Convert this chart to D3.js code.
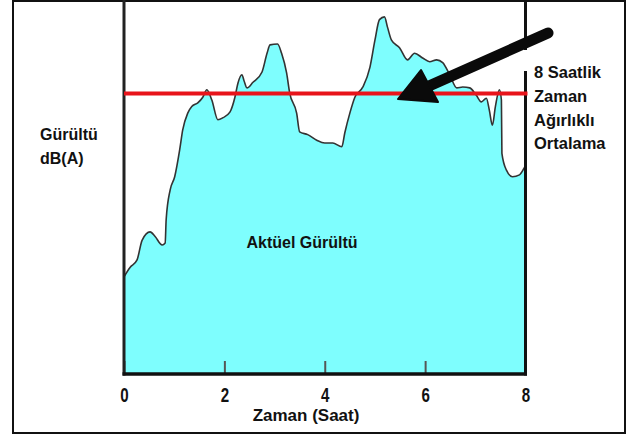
<!DOCTYPE html>
<html>
<head>
<meta charset="utf-8">
<script src="https://cdn.jsdelivr.net/npm/d3@7/dist/d3.min.js"></script>
<style>
  html, body { margin: 0; padding: 0; background: #fff; }
  svg { display: block; }
  text { font-family: "Liberation Sans", Arial, sans-serif; font-weight: bold; fill: #111; }
</style>
</head>
<body>
<svg id="chart" width="633" height="437"></svg>
<script>
// ---- Data (hours, dB(A)) ----
const hours = [0, 0.12, 0.26, 0.36, 0.52, 0.62, 0.76, 0.82, 0.84, 0.92, 1.01, 1.11, 1.17, 1.27, 1.35, 1.47, 1.57, 1.65, 1.75, 1.87,
  1.97, 2.11, 2.21, 2.27, 2.35, 2.39, 2.45, 2.57, 2.75, 2.85, 2.91, 3.06, 3.14, 3.24, 3.30, 3.44, 3.50, 3.66, 3.84, 4.00,
  4.16, 4.34, 4.40, 4.50, 4.60, 4.76, 4.90, 5.00, 5.09, 5.19, 5.25, 5.33, 5.49, 5.65, 5.79, 5.95, 6.09, 6.23, 6.35, 6.49,
  6.63, 6.75, 6.89, 7.02, 7.12, 7.22, 7.28, 7.34, 7.40, 7.48, 7.52, 7.53, 7.62, 7.74, 7.88, 7.98, 8.0];
const noise = [70.4, 71.4, 72.2, 74.3, 75.2, 74.7, 73.8, 74.0, 76.5, 79.7, 81.1, 84.0, 86.1, 87.9, 88.6, 89.0, 89.6, 90.4, 89.3, 87.2,
  87.4, 88.0, 89.6, 91.1, 92.0, 91.4, 90.6, 91.2, 92.3, 94.3, 95.2, 95.3, 94.3, 92.2, 90.1, 87.9, 85.9, 85.6, 85.0, 84.7,
  84.7, 84.3, 85.8, 87.9, 89.6, 90.7, 92.8, 95.7, 97.9, 98.2, 97.1, 95.7, 94.9, 93.6, 94.3, 93.8, 93.4, 93.6, 93.3, 92.0,
  90.6, 90.7, 90.6, 89.8, 89.1, 89.5, 88.2, 86.6, 88.6, 90.4, 89.3, 83.6, 81.8, 81.1, 81.3, 82.1, 82.3];
const twaLevel = 90;
const xTicks = [0, 2, 4, 6, 8];
const xDomain = [0, 8];
const yDomain = [60, 100];
const yLabel = ["Gürültü", "dB(A)"];
const xLabel = "Zaman (Saat)";
const areaLabel = "Aktüel Gürültü";
const twaLabel = ["8 Saatlik", "Zaman", "Ağırlıklı", "Ortalama"];

const data = hours.map((h, i) => ({ h, v: noise[i] }));

const svg = d3.select("#chart");
const x = d3.scaleLinear().domain(xDomain).range([124, 525.5]);
const y = d3.scaleLinear().domain(yDomain).range([374, 0]);

// outer frame
svg.append("rect").attr("x", 13).attr("y", 1).attr("width", 612).attr("height", 432)
  .attr("fill", "none").attr("stroke", "#111").attr("stroke-width", 2);

// area
const area = d3.area().x(d => x(d.h)).y0(y(yDomain[0])).y1(d => y(d.v)).curve(d3.curveMonotoneX);
svg.append("path").datum(data).attr("d", area).attr("fill", "#7efefe");
const line = d3.line().x(d => x(d.h)).y(d => y(d.v)).curve(d3.curveMonotoneX);
svg.append("path").datum(data).attr("d", line).attr("fill", "none")
  .attr("stroke", "#333").attr("stroke-width", 1.6).attr("stroke-linejoin", "round");

// x axis ticks
const axis = d3.axisBottom(x).tickValues(xTicks).tickSizeInner(-13).tickSizeOuter(0).tickPadding(13)
  .tickFormat(d3.format("d"));
const gx = svg.append("g").attr("transform", `translate(0,${y(yDomain[0])})`).call(axis);
gx.select(".domain").remove();
gx.selectAll(".tick line").attr("stroke", "#555").attr("stroke-width", 2);
gx.selectAll(".tick text")
  .style("font-family", "'Liberation Sans', Arial, sans-serif")
  .style("font-weight", "bold").style("font-size", "21px").attr("fill", "#222")
  .attr("transform", "scale(0.72,1)");

// plot axes lines (left, right, bottom)
svg.append("line").attr("x1", x(0)).attr("x2", x(0)).attr("y1", 0).attr("y2", y(yDomain[0]) + 1.5)
  .attr("stroke", "#222").attr("stroke-width", 3);
svg.append("line").attr("x1", x(8)).attr("x2", x(8)).attr("y1", 0).attr("y2", y(yDomain[0]) + 1.5)
  .attr("stroke", "#111").attr("stroke-width", 3);
svg.append("line").attr("x1", x(0) - 1.5).attr("x2", x(8) + 1.5).attr("y1", y(yDomain[0])).attr("y2", y(yDomain[0]))
  .attr("stroke", "#111").attr("stroke-width", 3.5);
// gap in right axis near label
svg.append("rect").attr("x", x(8) - 3).attr("y", 50).attr("width", 6).attr("height", 21).attr("fill", "#fff");

// TWA red line
svg.append("line").attr("x1", x(0)).attr("x2", x(8) + 2).attr("y1", y(twaLevel)).attr("y2", y(twaLevel))
  .attr("stroke", "#e8141b").attr("stroke-width", 4);

// arrow
svg.append("line").attr("x1", 548).attr("y1", 33).attr("x2", 420).attr("y2", 90)
  .attr("stroke", "#0a0a0a").attr("stroke-width", 11).attr("stroke-linecap", "round");
svg.append("path").attr("d", "M398,99 L421,70 L438,102 Z").attr("fill", "#0a0a0a")
  .attr("stroke", "#0a0a0a").attr("stroke-width", 2).attr("stroke-linejoin", "round");

// labels
svg.append("text").attr("x", 40).attr("y", 140).style("font-size", "16px").text(yLabel[0]);
svg.append("text").attr("x", 40).attr("y", 164).style("font-size", "16px").text(yLabel[1]);
svg.append("text").attr("x", 306).attr("y", 421).attr("text-anchor", "middle").style("font-size", "17px").text(xLabel);
svg.append("text").attr("x", 302).attr("y", 248).attr("text-anchor", "middle").style("font-size", "16px").text(areaLabel);
const ys = [78, 102, 126, 149];
twaLabel.forEach((t, i) => {
  svg.append("text").attr("x", 534).attr("y", ys[i]).style("font-size", "16.5px").text(t);
});
</script>
</body>
</html>
